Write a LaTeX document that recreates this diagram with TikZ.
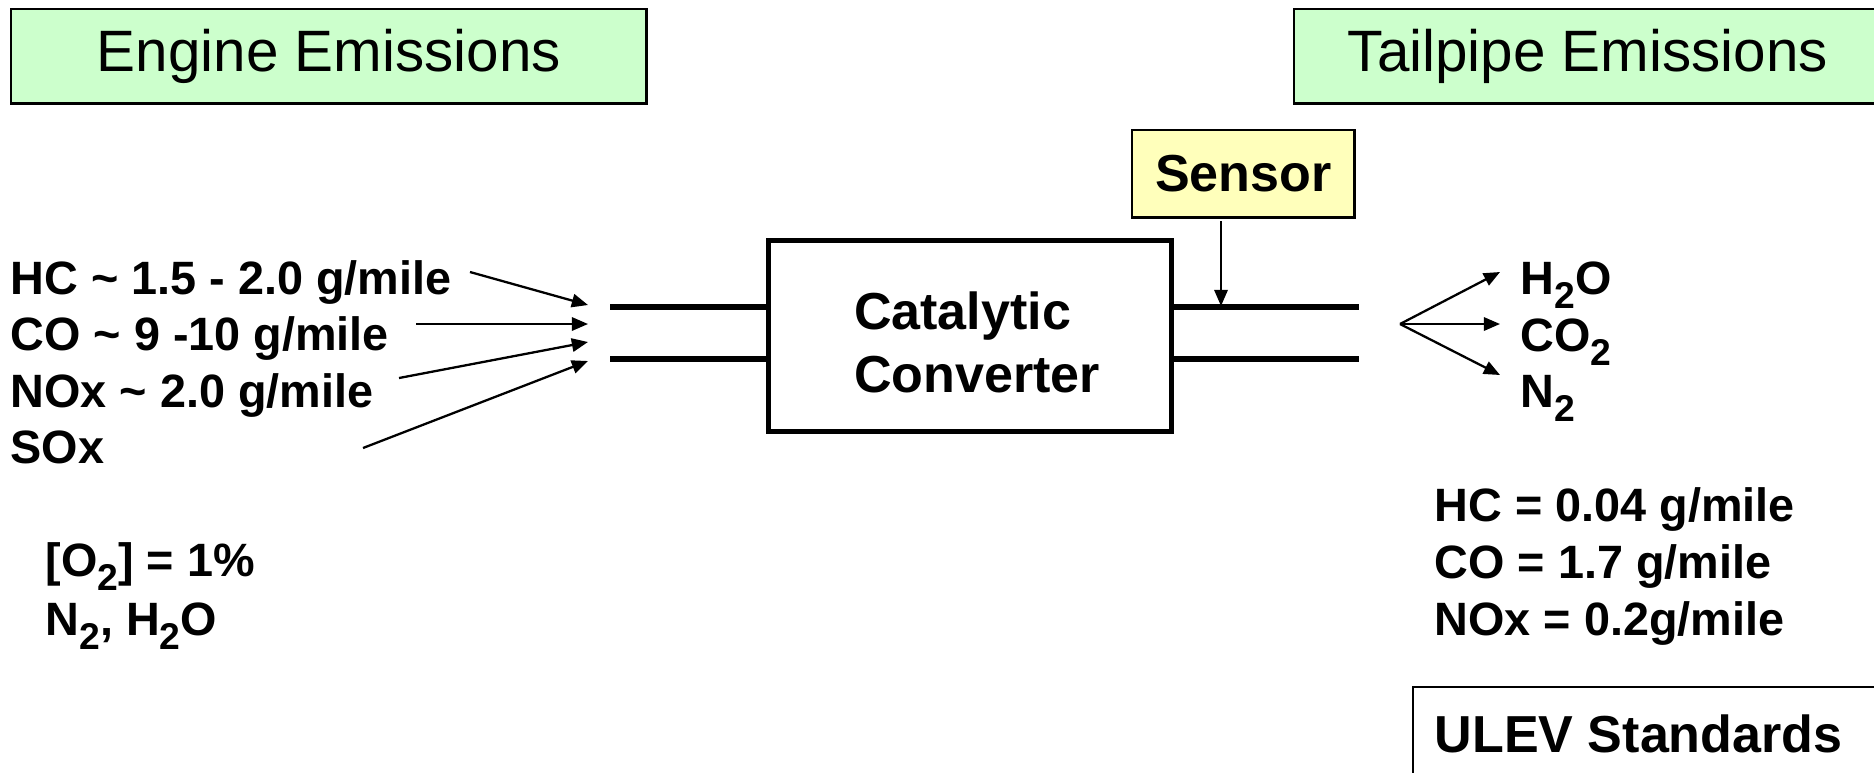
\documentclass[tikz,border=0pt]{standalone}
\usepackage{fontspec}
\setmainfont{Liberation Sans}
\usetikzlibrary{arrows.meta}
\definecolor{boxgreen}{HTML}{CCFFCC}
\definecolor{sensoryellow}{HTML}{FFFFBB}
\newcommand{\sbt}[1]{\raisebox{-0.3em}{\fontsize{10.6}{12}\selectfont #1}}
\newcommand{\tld}{{\char`~}}
\begin{document}
\begin{tikzpicture}[x=0.01cm,y=-0.01cm,
  lbl/.style={anchor=base west, inner sep=0pt, font=\fontsize{13.3}{16}\selectfont\bfseries},
  titlebox/.style={draw, line width=0.7pt, fill=boxgreen, anchor=north west, inner sep=0pt,
    minimum height=0.94cm, font=\fontsize{16.6}{20}\selectfont},
  arr/.style={line width=0.65pt, -{Triangle[length=4.6pt,width=3.8pt]}},
  pipe/.style={line width=1.5pt},
  bigbold/.style={font=\fontsize{14.8}{17.9}\selectfont\bfseries}]
\useasboundingbox (0,0) rectangle (1874,772);
% title boxes
\node[titlebox, minimum width=6.35cm] (engine) at (10,8) {Engine Emissions};
\node[titlebox, minimum width=5.87cm] (tail) at (1293,8) {Tailpipe Emissions};
% sensor
\node[draw, line width=0.7pt, fill=sensoryellow, anchor=north west, inner sep=0pt,
  minimum width=2.22cm, minimum height=0.87cm, bigbold] (sensor) at (1131,129) {Sensor};
% converter
\node[draw, line width=1.4pt, anchor=north west, inner sep=0pt,
  minimum width=4.03cm, minimum height=1.91cm] (conv) at (766,238) {};
\node[bigbold, align=left, inner sep=0pt] (convtxt) at (977,342) {Catalytic\\Converter};
% pipes
\coordinate (lp1) at (610,307);
\coordinate (lp2) at (610,359);
\coordinate (rp1) at (1359,307);
\coordinate (rp2) at (1359,359);
\draw[pipe] (lp1) -- (lp1 -| conv.west);
\draw[pipe] (lp2) -- (lp2 -| conv.west);
\draw[pipe] (rp1 -| conv.east) -- (rp1);
\draw[pipe] (rp2 -| conv.east) -- (rp2);
% sensor arrow
\coordinate (sa0) at (1221,221);
\coordinate (sa1) at (1221,306);
\draw[arr] (sa0) -- (sa1);
% left texts
\node[lbl] (hc) at (10,294) {HC \tld{} 1.5 - 2.0 g/mile};
\node[lbl] (co) at (10,350) {CO \tld{} 9 -10 g/mile};
\node[lbl] (nox) at (10,407) {NOx \tld{} 2.0 g/mile};
\node[lbl] (sox) at (10,463) {SOx};
\coordinate (hcs) at (470,272); \coordinate (hce) at (588,305);
\coordinate (cos) at (416,324); \coordinate (coe) at (588,324);
\coordinate (nos) at (399,378); \coordinate (noe) at (588,342);
\coordinate (sos) at (363,448); \coordinate (soe) at (588,361);
\draw[arr] (hcs) -- (hce);
\draw[arr] (cos) -- (coe);
\draw[arr] (nos) -- (noe);
\draw[arr] (sos) -- (soe);
\node[lbl] (o2) at (45,576) {[O\sbt{2}] = 1\%};
\node[lbl] (n2h2o) at (45,635) {N\sbt{2}, H\sbt{2}O};
% right fan
\coordinate (fan) at (1400,324);
\coordinate (f1) at (1500,272);
\coordinate (f2) at (1500,324);
\coordinate (f3) at (1500,375);
\draw[arr] (fan) -- (f1);
\draw[arr] (fan) -- (f2);
\draw[arr] (fan) -- (f3);
\node[lbl] (h2o) at (1520,294) {H\sbt{2}O};
\node[lbl] (co2) at (1520,351) {CO\sbt{2}};
\node[lbl] (n2) at (1520,407) {N\sbt{2}};
% standards
\node[lbl] (hcstd) at (1434,521) {HC = 0.04 g/mile};
\node[lbl] (costd) at (1434,578) {CO = 1.7 g/mile};
\node[lbl] (noxstd) at (1434,635) {NOx = 0.2g/mile};
\node[draw, line width=0.7pt, anchor=north west, inner sep=0pt,
  minimum width=4.9cm, minimum height=1.3cm] (ulevbox) at (1412,686) {};
\node[lbl, bigbold] (ulev) at (1434,752) {ULEV Standards};
\end{tikzpicture}
\end{document}
